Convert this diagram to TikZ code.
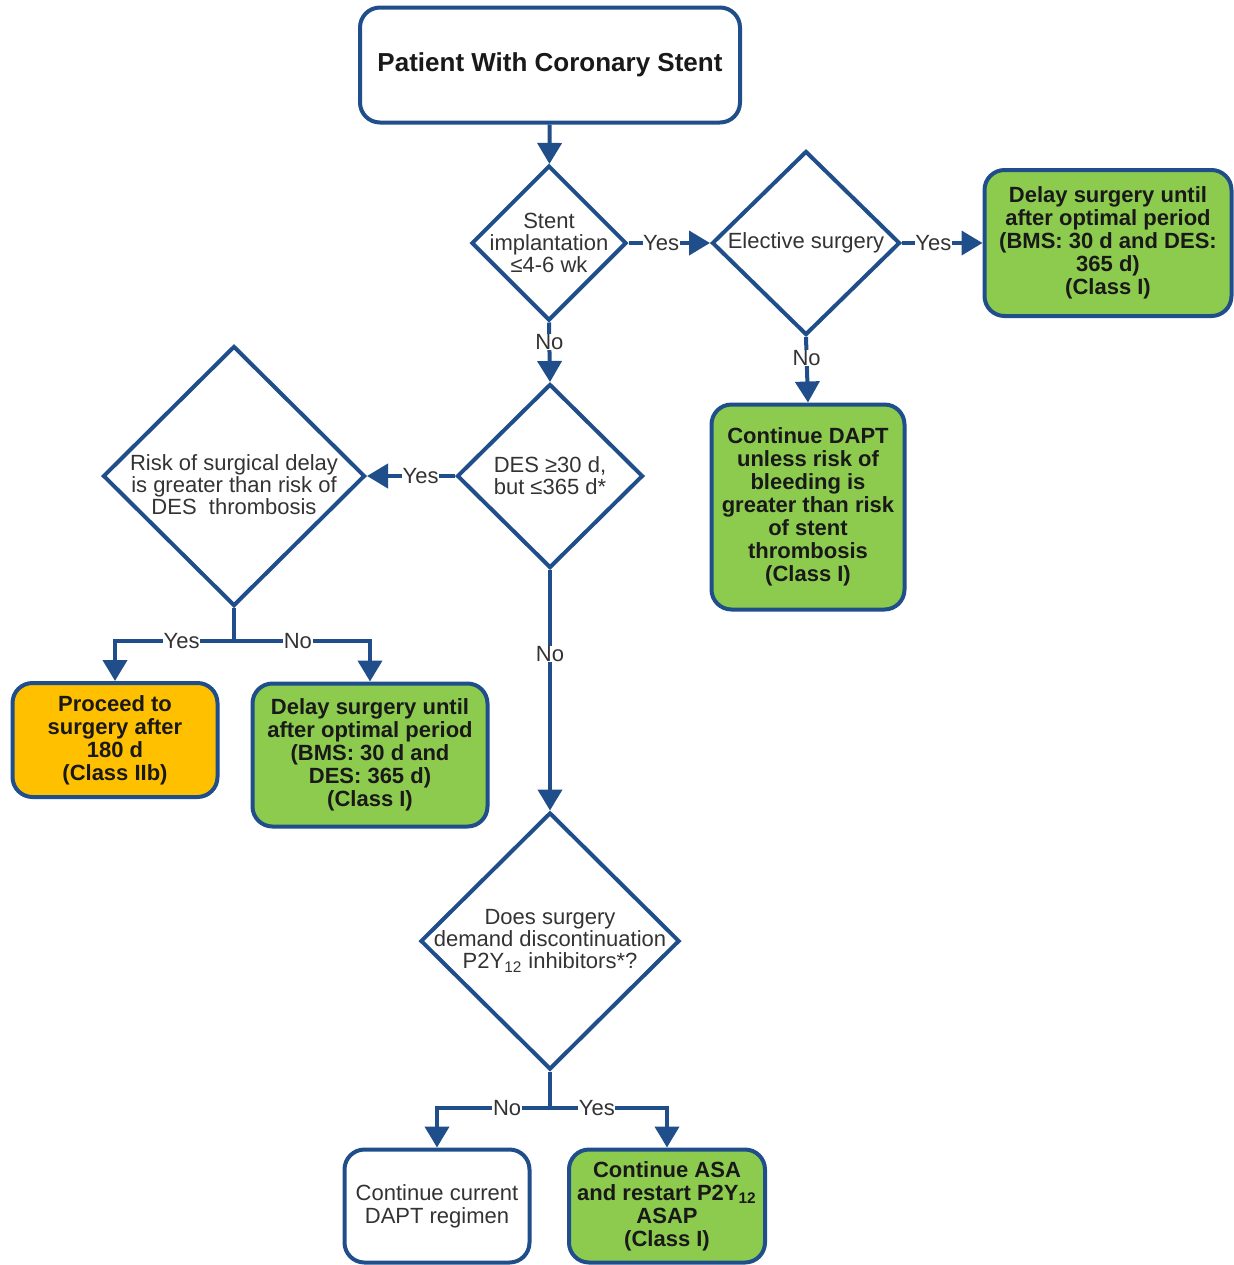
\documentclass[tikz,border=0pt]{standalone}
\usepackage{fontspec}
\setmainfont{Liberation Sans}
\usetikzlibrary{shapes.geometric,arrows.meta}
\definecolor{flowblue}{HTML}{1F4E8A}
\definecolor{okgreen}{HTML}{8DCB4F}
\definecolor{warnorange}{HTML}{FFC000}
\definecolor{darktext}{HTML}{333333}

\begin{document}
\begin{tikzpicture}[x=0.5pt,y=-0.5pt,
  box/.style={draw=flowblue, line width=2pt, rounded corners=10pt, align=center,
    font=\bfseries\fontsize{11}{11.5}\selectfont, text=black!90, inner sep=2pt},
  okbox/.style={box, fill=okgreen},
  decision/.style={diamond, draw=flowblue, line width=2pt, inner sep=0pt},
  dtext/.style={align=center, font=\fontsize{11}{11}\selectfont, text=darktext},
  link/.style={draw=flowblue, line width=2pt},
  flow/.style={link, -{Triangle[width=12pt,length=10.5pt]}},
  lbl/.style={fill=white, inner sep=0.3pt, font=\fontsize{11}{11}\selectfont, text=darktext}]

  \useasboundingbox (0,0) rectangle (1233,1265);

  \node[box, font=\bfseries\fontsize{13}{14}\selectfont, minimum width=190pt, minimum height=57.5pt] (start) at (550,65) {Patient With Coronary Stent};

  \node[decision, minimum width=77.5pt, minimum height=77.5pt] (d1) at (549,243) {};
  \node[dtext] (t1) at (d1) {Stent\\implantation\\≤4-6 wk};
  \node[decision, minimum width=94pt, minimum height=92pt] (d2) at (806,243) {};
  \node[dtext] (t2) at (d2) {Elective surgery};
  \node[okbox, minimum width=123.5pt, minimum height=73pt] (b1) at (1108,243) {Delay surgery until\\after optimal period\\(BMS: 30 d and DES:\\365 d)\\(Class I)};
  \node[okbox, minimum width=96.5pt, minimum height=102.5pt] (b2) at (808,507) {Continue DAPT\\unless risk of\\bleeding is\\greater than risk\\of stent\\thrombosis\\(Class I)};

  \node[decision, minimum width=93pt, minimum height=92pt] (d3) at (550,476) {};
  \node[dtext] (t3) at (d3) {DES ≥30 d,\\but ≤365 d*};
  \node[decision, minimum width=131pt, minimum height=130pt] (d4) at (234,476) {};
  \node[dtext] (t4) at (234,485) {Risk of surgical delay\\is greater than risk of\\DES~ thrombosis};
  \node[box, fill=warnorange, minimum width=102.5pt, minimum height=57pt] (b3) at (115,740) {Proceed to\\surgery after\\180 d\\(Class IIb)};
  \node[okbox, minimum width=117.5pt, minimum height=71.5pt] (b4) at (370,755) {Delay surgery until\\after optimal period\\(BMS: 30 d and\\DES: 365 d)\\(Class I)};

  \node[decision, minimum width=129.5pt, minimum height=128.5pt] (d5) at (550,941) {};
  \node[dtext] (t5) at (d5) {Does surgery\\demand discontinuation\\P2Y\textsubscript{12} inhibitors*?};
  \node[box, font=\fontsize{11}{11.5}\selectfont, text=darktext, minimum width=92.5pt, minimum height=56.5pt] (b5) at (437,1206) {Continue current\\DAPT regimen};
  \node[okbox, minimum width=98pt, minimum height=56.5pt] (b6) at (667,1206) {Continue ASA\\and restart P2Y\textsubscript{12}\\ASAP\\(Class I)};

  \coordinate (j4) at (234,641);
  \coordinate (j5) at (550,1108);

  \draw[flow] (start) -- (d1);
  \draw[flow] (d1.east) -- node[lbl, pos=0.4]{Yes} (d2.west);
  \draw[flow] (d2.east) -- node[lbl, pos=0.39]{Yes} (b1.west);
  \draw[flow] (d1.south) -- node[lbl, pos=0.33]{No} (d3.north);
  \draw[flow] (d2.south) -- node[lbl, pos=0.32]{No} (b2.north);
  \draw[flow] (d3.west) -- node[lbl, pos=0.39]{Yes} (d4.east);
  \draw[flow] (d3.south) -- node[lbl, pos=0.35]{No} (d5.north);
  \draw[link] (d4.south) -- (j4);
  \draw[flow] (j4) -| node[lbl, pos=0.22]{Yes} (b3.north);
  \draw[flow] (j4) -| node[lbl, pos=0.235]{No} (b4.north);
  \draw[link] (d5.south) -- (j5);
  \draw[flow] (j5) -| node[lbl, pos=0.19]{No} (b5.north);
  \draw[flow] (j5) -| node[lbl, pos=0.2]{Yes} (b6.north);
\end{tikzpicture}
\end{document}
